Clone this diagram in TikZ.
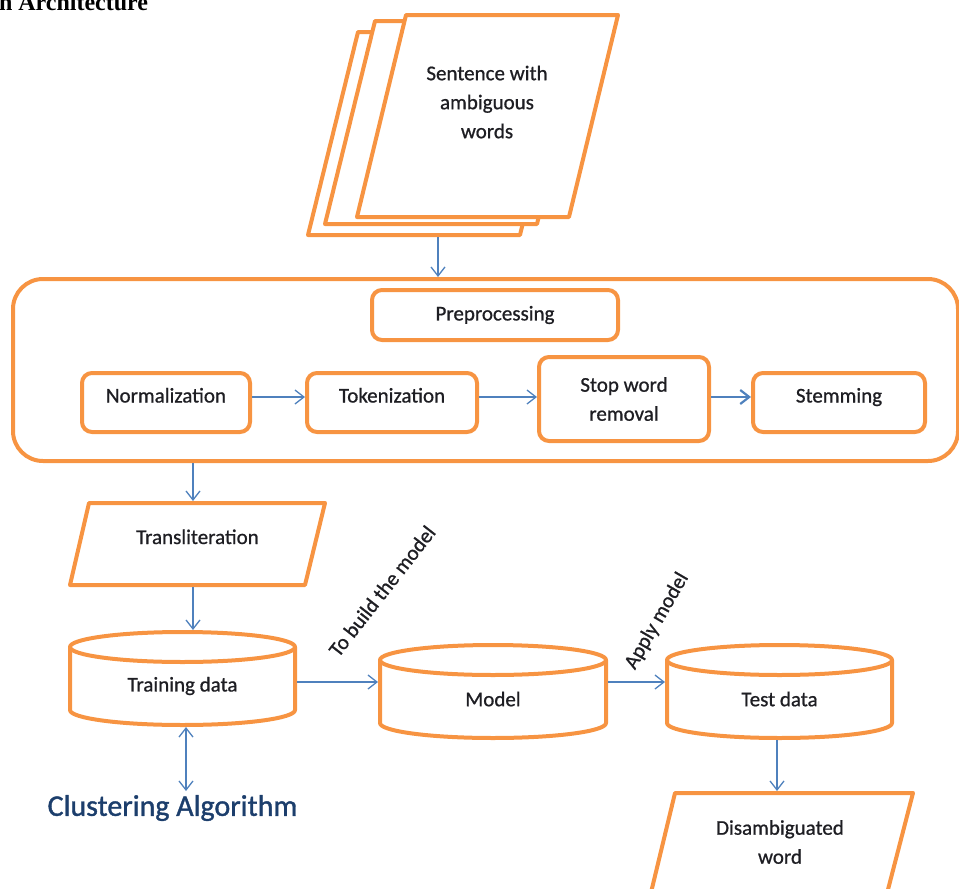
\documentclass[tikz,border=0pt]{standalone}
\usepackage{fontspec}
\setmainfont{Carlito}[FakeBold=0.8]
\newfontfamily\clusfont{Carlito}[FakeBold=1.2]
\newfontfamily\titlefont{Liberation Serif}
\usetikzlibrary{arrows.meta,calc}
\definecolor{orng}{RGB}{247,148,66}
\definecolor{arrblue}{RGB}{79,129,189}
\definecolor{txt}{RGB}{30,30,35}
\definecolor{clusblue}{RGB}{28,62,108}
\begin{document}
\begin{tikzpicture}[x=1pt,y=-1pt,
  every node/.style={text=txt, font=\fontsize{21}{29}\selectfont, outer sep=0pt},
  orframe/.style={draw=orng, line width=4pt, line join=round},
  carrier/.style={inner sep=0pt, outer sep=0pt},
  rbox/.style={draw=orng, line width=4pt, rounded corners=10pt, fill=white, inner sep=0pt, outer sep=0pt, align=center},
  toptext/.style={text height=14pt, text depth=14pt},
  arr/.style={draw=arrblue, line width=1.3pt, shorten >=2pt, shorten <=2pt, -{Straight Barb[length=9pt,width=14pt]}},
  dblarr/.style={arr, {Straight Barb[length=9pt,width=14pt]}-{Straight Barb[length=9pt,width=14pt]}}
]
\useasboundingbox (0,0) rectangle (959,889);

% title (cut off)
\node[anchor=base west, inner sep=0pt, text=black, font=\titlefont\bfseries\fontsize{24}{24}\selectfont] (title) at (-1,10) {n Architecture};

% stacked documents
\node[carrier, minimum width=262pt, minimum height=203pt] (docback) at (439,133.5) {};
\draw[orframe, fill=white] ([xshift=50pt]docback.north west) -- (docback.north east) -- ([xshift=-50pt]docback.south east) -- (docback.south west) -- cycle;
\node[carrier, minimum width=262pt, minimum height=203pt] (docmid) at (456,122.5) {};
\draw[orframe, fill=white] ([xshift=50pt]docmid.north west) -- (docmid.north east) -- ([xshift=-50pt]docmid.south east) -- (docmid.south west) -- cycle;
\node[carrier, minimum width=261pt, minimum height=202pt] (docfront) at (487.5,116) {};
\draw[orframe, fill=white] ([xshift=49pt]docfront.north west) -- (docfront.north east) -- ([xshift=-49pt]docfront.south east) -- (docfront.south west) -- cycle;
\node[align=center, inner sep=0pt] (doctext) at (487,102) {Sentence with\\ambiguous\\words};

% preprocessing container
\node[rbox, rounded corners=30pt, fill=none, minimum width=945pt, minimum height=182pt] (big) at (485.5,370) {};
\node[rbox, minimum width=246pt, minimum height=50pt] (pre) at (495,315) {Preprocessing};
\node[rbox, toptext, minimum width=168pt, minimum height=59pt] (norm) at (166,402.5) {Normalization};
\node[rbox, toptext, minimum width=170pt, minimum height=59pt] (tok) at (392,402.5) {Tokenization};
\node[rbox, minimum width=170pt, minimum height=84pt] (stop) at (624,399) {Stop word\\removal};
\node[rbox, toptext, minimum width=172pt, minimum height=59pt] (stem) at (839,402.5) {Stemming};

\coordinate (r1) at (0,397);
\draw[arr] (norm.east |- r1) -- (tok.west |- r1);
\draw[arr] (tok.east |- r1) -- (stop.west |- r1);
\draw[arr, line width=2.2pt] (stop.east |- r1) -- (stem.west |- r1);

\coordinate (c1) at (438,0);
\draw[arr] (docback.south -| c1) -- (big.north -| c1);

% transliteration
\node[carrier, toptext, minimum width=255pt, minimum height=82pt] (trans) at (197.5,544) {Transliteration};
\draw[orframe] ([xshift=19pt]trans.north west) -- (trans.north east) -- ([xshift=-20pt]trans.south east) -- (trans.south west) -- cycle;

% cylinders
\node[carrier, minimum width=225pt, minimum height=78pt] (train) at (182.5,686) {Training data};
\draw[orframe] (train.north) ellipse[x radius=112.5pt, y radius=15pt];
\draw[orframe] (train.north west) -- ([yshift=15pt]train.south west) arc[start angle=180, end angle=360, x radius=112.5pt, y radius=15pt] -- (train.north east);

\node[carrier, minimum width=226pt, minimum height=78pt] (model) at (493,699) {Model};
\draw[orframe] (model.north) ellipse[x radius=113pt, y radius=15pt];
\draw[orframe] (model.north west) -- ([yshift=15pt]model.south west) arc[start angle=180, end angle=360, x radius=113pt, y radius=15pt] -- (model.north east);

\node[carrier, minimum width=225pt, minimum height=78pt] (test) at (779.5,699) {Test data};
\draw[orframe] (test.north) ellipse[x radius=112.5pt, y radius=15pt];
\draw[orframe] (test.north west) -- ([yshift=15pt]test.south west) arc[start angle=180, end angle=360, x radius=112.5pt, y radius=15pt] -- (test.north east);

% disambiguated word
\node[carrier, minimum width=265pt, minimum height=112pt] (dis) at (780.5,849) {};
\draw[orframe] ([xshift=27pt]dis.north west) -- (dis.north east) -- ([xshift=-29pt]dis.south east) -- (dis.south west) -- cycle;
\node[align=center, inner sep=0pt] (distext) at (780,842) {Disambiguated\\word};

% clustering
\node[text=clusblue, inner sep=2pt, font=\clusfont\fontsize{30}{36}\selectfont] (clus) at (172.5,808) {Clustering Algorithm};

% connectors
\coordinate (c3) at (193,0);
\draw[arr] (big.south -| c3) -- (trans.north -| c3);
\draw[arr] (trans.south -| c3) -- ($(train.north -| c3)+(0,-15)$);
\coordinate (c2) at (186,0);
\draw[dblarr] (train.south -| c2) -- (clus.north -| c2);

\coordinate (r2) at (0,682);
\draw[arr] (train.east |- r2) -- (model.west |- r2);
\draw[arr] (model.east |- r2) -- (test.west |- r2);

\coordinate (c4) at (777,0);
\draw[arr] (test.south -| c4) -- (dis.north -| c4);

% rotated labels
\node[rotate=52, inner sep=0pt] (lblbuild) at (382,591) {To build the model};
\node[rotate=60, inner sep=0pt] (lblapply) at (657,621) {Apply model};
\end{tikzpicture}
\end{document}
